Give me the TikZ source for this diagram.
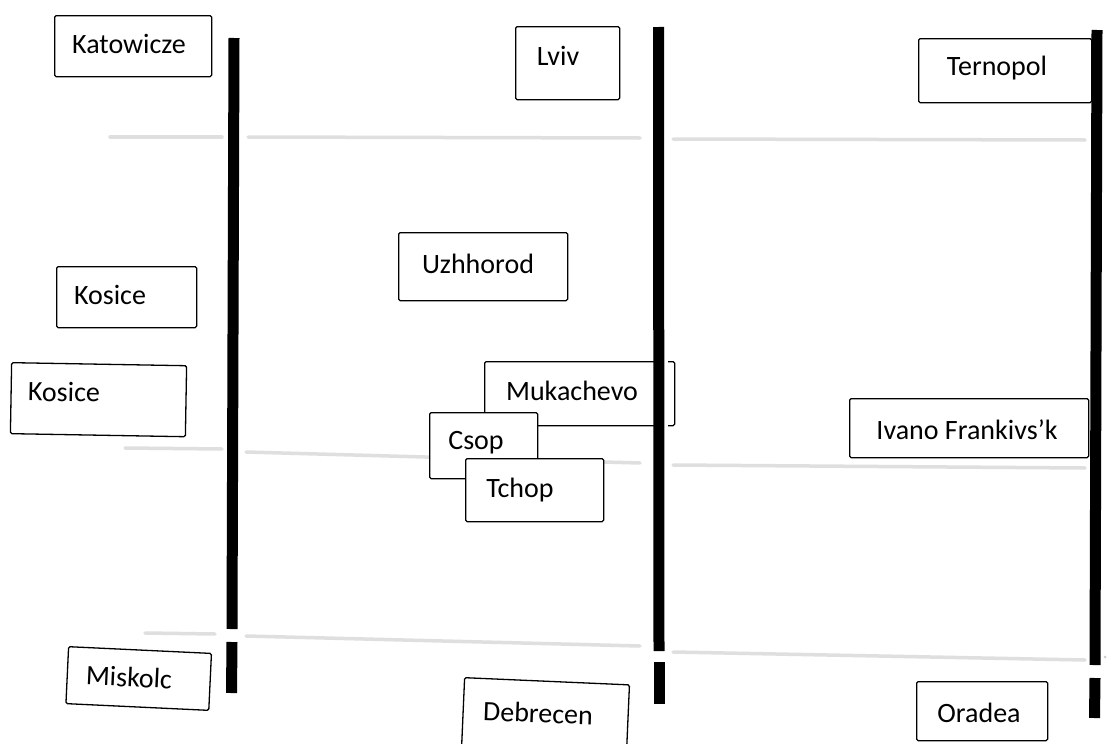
\documentclass[tikz,border=0pt]{standalone}
\usepackage{fontspec}
\setmainfont{Carlito}
\begin{document}
\begin{tikzpicture}[x=1pt,y=-1pt,
  citybox/.style={draw=black, line width=1.3pt, fill=white, rounded corners=1.5pt, inner sep=0pt, anchor=north west},
  cityname/.style={font=\fontsize{28}{32}\selectfont, inner sep=0pt, anchor=center},
  bar/.style={line width=11pt, black},
  bleed/.style={line width=3.5pt, gray!25, line cap=round}]
\useasboundingbox[fill=white] (0,0) rectangle (1114,744);

% faint grey bands
\draw[bleed] (110,137) -- (222,137);
\draw[bleed] (248,137) -- (640,138);
\draw[bleed] (673,139) -- (1085,140);
\draw[bleed] (125,448) -- (222,449);
\draw[bleed] (246,452) -- (640,463);
\draw[bleed] (673,465) -- (1085,468);
\draw[bleed] (145,633) -- (215,634);
\draw[bleed] (246,636) -- (640,646);
\draw[bleed] (673,652) -- (1085,660);
\fill[gray!40] (1105,657) circle (1.5);

% boxes
\node[citybox, minimum width=157, minimum height=61] (katb) at (54,15) {};
\node[cityname] (kat) at (129,44) {Katowicze};

\node[citybox, minimum width=104, minimum height=73] (lvivb) at (515,26) {};
\node[cityname] (lviv) at (558,56) {Lviv};

\node[citybox, minimum width=173, minimum height=64] (terb) at (918,38) {};
\node[cityname] (ter) at (997,68) {Ternopol};

\node[citybox, minimum width=169, minimum height=68] (uzhb) at (398,232) {};
\node[cityname] (uzh) at (478,264) {Uzhhorod};

\node[citybox, minimum width=140, minimum height=61] (kos1b) at (56,266) {};
\node[cityname] (kos1) at (110,295) {Kosice};

\node[citybox, minimum width=175, minimum height=71, rotate=-1] (kos2b) at (11,362) {};
\node[cityname, rotate=-1] (kos2) at (64,392) {Kosice};

\node[citybox, minimum width=190, minimum height=64] (mukb) at (484,361) {};
\node[cityname] (muk) at (572,391) {Mukachevo};

\node[citybox, minimum width=108, minimum height=66] (csopb) at (429,412) {};
\node[cityname] (csop) at (476,443) {Csop};

\node[citybox, minimum width=138, minimum height=63] (tchopb) at (465,458) {};
\node[cityname] (tchop) at (520,490) {Tchop};

\node[citybox, minimum width=239, minimum height=59] (ivab) at (849,398) {};
\node[cityname] (iva) at (967,430) {Ivano Frankivs’k};

\node[citybox, minimum width=143, minimum height=57, rotate=-2.7] (miskb) at (68,646) {};
\node[cityname, rotate=-2.7] (misk) at (129,677) {Miskolc};

\node[citybox, minimum width=165, minimum height=75, rotate=-2.5] (debb) at (464,677) {};
\node[cityname, rotate=-2] (deb) at (538,713) {Debrecen};

\node[citybox, minimum width=131, minimum height=59] (orab) at (916,681) {};
\node[cityname] (ora) at (979,713) {Oradea};

% thick vertical bars
\draw[bar] (234,38) -- (232,629);
\draw[bar] (232,642) -- (231.5,693);
\draw[white, line width=4pt] (666,358) -- (666,428);
\draw[bar] (658.5,27) -- (659,651);
\draw[bar] (659,662) -- (659,704);
\draw[bar] (1097,30) -- (1095,665);
\draw[bar] (1095,678) -- (1094.5,718);
\end{tikzpicture}
\end{document}
